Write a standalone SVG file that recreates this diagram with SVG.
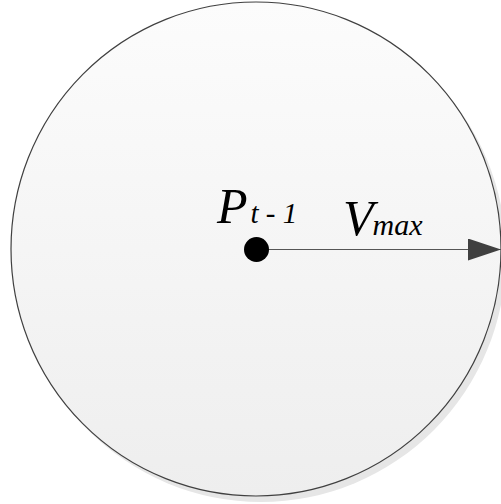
<svg xmlns="http://www.w3.org/2000/svg" width="501" height="504" viewBox="0 0 501 504">
<defs>
<linearGradient id="g" x1="0" y1="0" x2="0" y2="1">
<stop offset="0" stop-color="#fcfcfc"/>
<stop offset="1" stop-color="#eeeeee"/>
</linearGradient>
<marker id="arr" markerWidth="33" markerHeight="22" refX="33" refY="11" markerUnits="userSpaceOnUse" orient="auto">
<path d="M0,0 L33,11 L0,22 Z" fill="#404040"/>
</marker>
</defs>
<rect width="501" height="504" fill="#ffffff"/>
<g id="circle">
<ellipse cx="261" cy="255" rx="245" ry="247" fill="#e6e6e6"/>
<ellipse cx="256" cy="249" rx="245" ry="247" fill="url(#g)" stroke="#404040" stroke-width="1.2"/>
</g>
<g id="connectors">
<line x1="256.5" y1="249.5" x2="501" y2="249.5" stroke="#555555" stroke-width="1.2" marker-end="url(#arr)"/>
</g>
<g id="point">
<circle cx="256.5" cy="249.5" r="12.5" fill="#000000"/>
</g>
<g id="labels" fill="#000000">
<text font-family="Liberation Serif" font-style="italic" x="217" y="223" font-size="50">P<tspan font-size="29" dx="3">t - 1</tspan></text>
<text font-family="Liberation Serif" font-style="italic" x="343" y="235" font-size="50">V<tspan font-size="30" dx="-1">max</tspan></text>
</g>
</svg>
